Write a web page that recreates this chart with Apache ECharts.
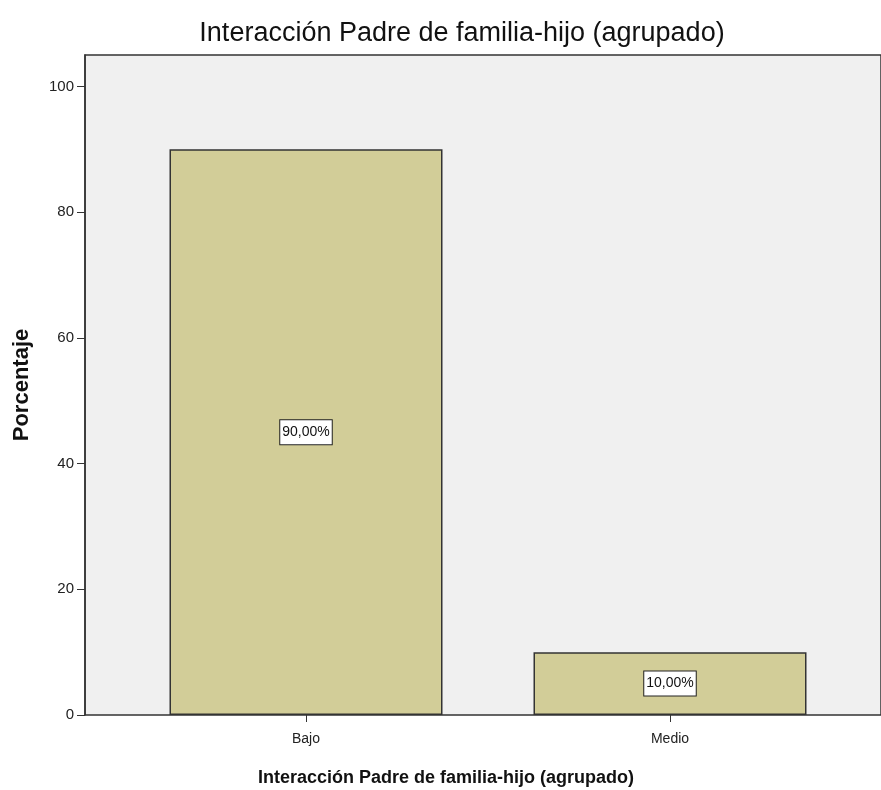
<!DOCTYPE html>
<html><head><meta charset="utf-8">
<script src="https://cdn.jsdelivr.net/npm/echarts@6/dist/echarts.min.js"></script>
<style>html,body{margin:0;padding:0;background:#fff}#c{width:881px;height:790px}</style>
</head><body><div id="c"></div>
<script>
const categories = ['Bajo', 'Medio'];
const values = [90.0, 10.0];
const yTicks = [0, 20, 40, 60, 80, 100];
const titleText = 'Interacción Padre de familia-hijo (agrupado)';
const xName = 'Interacción Padre de familia-hijo (agrupado)';
const yName = 'Porcentaje';

const chart = echarts.init(document.getElementById('c'), null, {renderer: 'canvas'});
const font = 'Liberation Sans, Arial, sans-serif';
chart.setOption({
  animation: false,
  backgroundColor: '#ffffff',
  title: [
    {text: titleText, left: 457, top: 15, textAlign: 'center',
     textStyle: {fontFamily: font, fontSize: 27, fontWeight: 'normal', color: '#111'}},
    {text: xName, left: 441, top: 764, textAlign: 'center',
     textStyle: {fontFamily: font, fontSize: 18, fontWeight: 'bold', color: '#111'}}
  ],
  grid: [
    {left: 85, right: -20, top: 55, bottom: 75, show: true, backgroundColor: '#f0f0f0',
     borderColor: '#333', borderWidth: 1.5},
    {left: 124, right: 29, top: 55, bottom: 75}
  ],
  xAxis: [
    {gridIndex: 0, type: 'value', min: 0, max: 1, show: false},
    {gridIndex: 1, type: 'category', data: categories,
     axisLine: {show: false},
     axisTick: {show: true, alignWithLabel: true, length: 7, lineStyle: {color: '#333'}},
     axisLabel: {fontFamily: font, fontSize: 14, color: '#222', margin: 17},
     splitLine: {show: false}}
  ],
  yAxis: [
    {gridIndex: 0, type: 'value', min: 0, max: 105, interval: 20,
     name: yName, nameLocation: 'middle', nameGap: 52,
     nameTextStyle: {fontFamily: font, fontSize: 22, fontWeight: 'bold', color: '#111'},
     axisLine: {show: true, lineStyle: {color: '#333', width: 1.5}},
     axisTick: {show: true, length: 8, lineStyle: {color: '#333'}},
     axisLabel: {fontFamily: font, fontSize: 15, color: '#222', margin: 11, showMaxLabel: false,
       formatter: v => yTicks.indexOf(v) >= 0 ? String(v) : ''},
     splitLine: {show: false}},
    {gridIndex: 1, type: 'value', min: 0, max: 105, show: false}
  ],
  series: [{
    type: 'bar', xAxisIndex: 1, yAxisIndex: 1, data: values, barWidth: '75%',
    itemStyle: {color: '#d2cd98', borderColor: '#333', borderWidth: 1.5},
    label: {show: true, position: 'inside',
      formatter: p => p.value.toFixed(2).replace('.', ',') + '%',
      fontFamily: font, fontSize: 14, color: '#111',
      backgroundColor: '#ffffff', borderColor: '#222', borderWidth: 1, padding: [5, 2]}
  }]
});
</script></body></html>
